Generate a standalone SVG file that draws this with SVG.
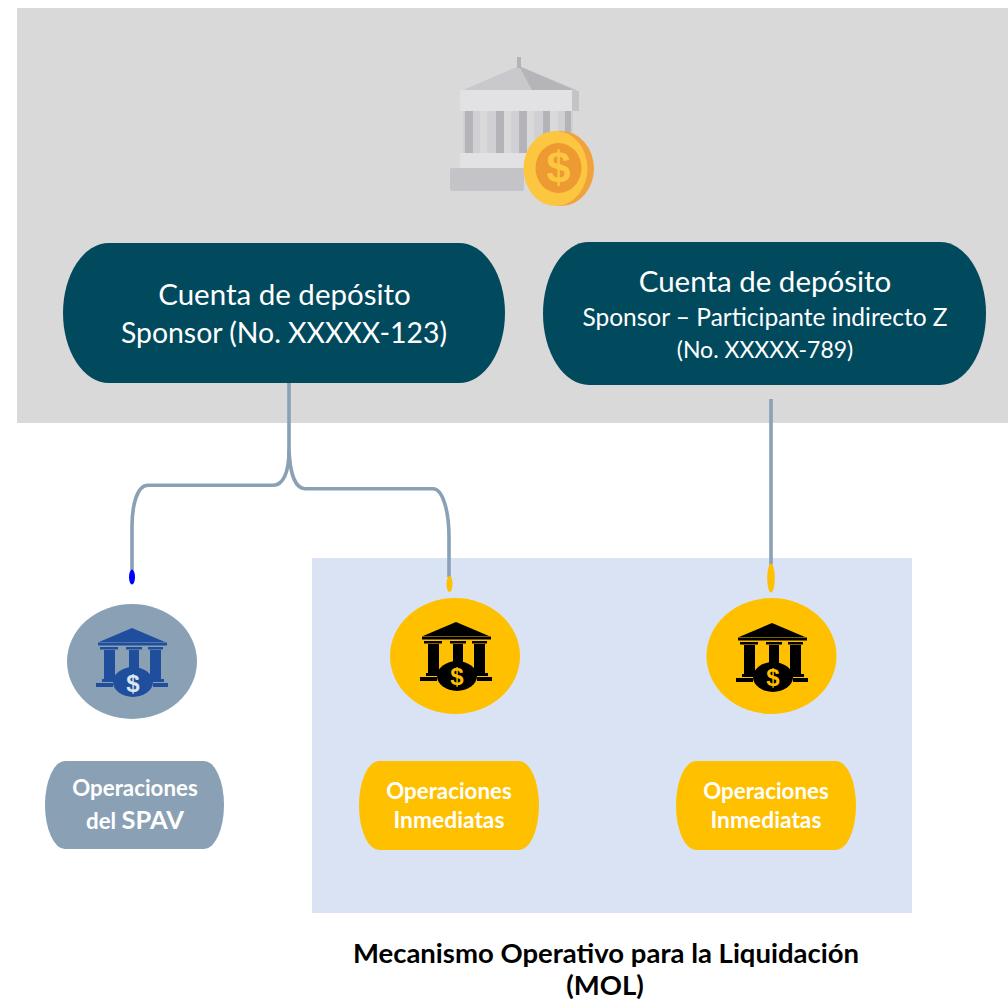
<svg xmlns="http://www.w3.org/2000/svg" width="1008" height="1001" viewBox="0 0 1008 1001">
<style>
text{font-family:"Lato","Carlito","Open Sans",sans-serif;text-anchor:middle}
.dk{fill:#014a5d}
.t{fill:#fff}
.b{font-weight:700;fill:#fff}
.ln{fill:none;stroke:#8aa1b5;stroke-width:3.6}
.gold{fill:#ffc000}
.d{font-family:"Liberation Sans",sans-serif;font-weight:700}
</style>
<defs>
<filter id="soft" x="-5%" y="-5%" width="110%" height="110%"><feGaussianBlur stdDeviation="0.6"/></filter>
<g id="bank">
<path d="M0 0L33 14H-33Z"/>
<rect x="-34" y="14.500" width="69" height="3"/>
<rect x="-32" y="19" width="18" height="2.500"/><rect x="-6" y="19" width="16" height="2.500"/><rect x="16" y="19" width="15" height="2.500"/>
<rect x="-28" y="22" width="11" height="30"/><rect x="-3" y="22" width="10" height="24"/><rect x="18" y="22" width="11" height="30"/>
<rect x="-30" y="51" width="15" height="3"/><rect x="17" y="51" width="15" height="3"/>
<rect x="-36" y="55" width="17" height="4"/><rect x="21" y="55" width="15" height="4"/>
<ellipse cx="1" cy="54" rx="20" ry="15"/>
</g>
</defs>
<rect id="fondo" x="17" y="8" width="991" height="415" fill="#d9d9d9"/>
<rect id="mol" x="312" y="558" width="600" height="355" fill="#dae3f3"/>
<g id="icono-banco" filter="url(#soft)">
<rect x="450" y="168" width="74" height="23" rx="2" fill="#c4c4c8"/>
<path d="M463 90L519 66L577 90Z" fill="#c9c9cd"/>
<path d="M519 66L579 92L572 90H532Z" fill="#b5b5b9"/>
<rect x="517" y="57" width="4" height="11" fill="#b4b4b8"/>
<rect x="460" y="90" width="112" height="21" fill="#e2e2e5"/>
<rect x="572" y="91" width="7" height="20" fill="#c4c4c8"/>
<rect x="460" y="153" width="72" height="15" fill="#e2e2e5"/>
<g fill="#d0d0d4"><rect x="463" y="111" width="17" height="42"/><rect x="487" y="111" width="17" height="42"/><rect x="511" y="111" width="16" height="42"/><rect x="534" y="111" width="16" height="28"/><rect x="558" y="111" width="15" height="24"/></g>
<g fill="#b4b4b8"><rect x="465" y="111" width="8" height="42"/><rect x="496" y="111" width="8" height="42"/><rect x="519" y="111" width="8" height="42"/><rect x="543" y="111" width="7" height="28"/><rect x="565" y="111" width="6" height="24"/></g>
<ellipse cx="561" cy="168.500" rx="33" ry="37.500" fill="#f0a23c"/>
<ellipse cx="555.500" cy="168.500" rx="32" ry="37.500" fill="#fcc63f"/>
<ellipse cx="558.500" cy="168" rx="23" ry="25" fill="#ee9a33"/>
<text class="d" x="558.500" y="183" font-size="44" fill="#fcc63f">$</text>
</g>
<g id="cuenta-sponsor">
<rect class="dk" x="63" y="243" width="442" height="140" rx="46" ry="70"/>
<text class="t" x="284.500" y="304.500" font-size="29.500">Cuenta de depósito</text>
<text class="t" x="284" y="342.500" font-size="28.400">Sponsor (No. XXXXX-123)</text>
</g>
<g id="cuenta-z">
<rect class="dk" x="543" y="242" width="443" height="143" rx="46" ry="71.500"/>
<text class="t" x="765" y="292" font-size="29.500">Cuenta de depósito</text>
<text class="t" x="765" y="326" font-size="24.500">Sponsor – Participante indirecto Z</text>
<text class="t" x="765" y="358" font-size="23">(No. XXXXX-789)</text>
</g>
<g id="conectores">
<path class="ln" d="M289 383V450C289 473 283 485 273 485.300H148C137 485.300 132 505 132 527V570"/>
<path class="ln" d="M289 450C290 473 295 488.700 305 488.700H433C443 488.700 449 512 449 537V577"/>
<path class="ln" d="M771 399V565"/>
<ellipse cx="132" cy="577" rx="3" ry="7.500" fill="#0000ff"/>
<ellipse cx="449.500" cy="584" rx="3" ry="8" fill="#ffc000"/>
<ellipse cx="771" cy="578" rx="3.800" ry="14.500" fill="#ffc000"/>
</g>
<g id="spav-icono">
<ellipse cx="132" cy="661.500" rx="65" ry="57.500" fill="#8aa1b5"/>
<use href="#bank" x="132" y="628" fill="#1f4e9c"/>
<text class="d" x="133" y="692" font-size="24" fill="#dce6f2">$</text>
</g>
<g id="mol-icono-1">
<ellipse class="gold" cx="455" cy="656" rx="65" ry="58"/>
<use href="#bank" x="456" y="622" fill="#000"/>
<text class="d" x="457" y="685" font-size="24" fill="#ffc000">$</text>
</g>
<g id="mol-icono-2">
<ellipse class="gold" cx="771.500" cy="656" rx="65" ry="58"/>
<use href="#bank" x="772" y="623" fill="#000"/>
<text class="d" x="773" y="686" font-size="24" fill="#ffc000">$</text>
</g>
<g id="spav">
<rect x="45" y="761" width="179" height="88" rx="20" ry="44" fill="#8aa1b5"/>
<text class="b" x="135" y="796" font-size="22.300">Operaciones</text>
<text class="b" x="135" y="829" font-size="22.300">del <tspan font-size="25.500">SPAV</tspan></text>
</g>
<g id="inmediatas-1">
<rect class="gold" x="359" y="761" width="180" height="89" rx="20" ry="44.500"/>
<text class="b" x="449" y="799" font-size="22.300">Operaciones</text>
<text class="b" x="449" y="828" font-size="22.800">Inmediatas</text>
</g>
<g id="inmediatas-2">
<rect class="gold" x="676" y="761" width="180" height="89" rx="20" ry="44.500"/>
<text class="b" x="766" y="799" font-size="22.300">Operaciones</text>
<text class="b" x="766" y="828" font-size="22.800">Inmediatas</text>
</g>
<g id="titulo-mol">
<text x="606" y="963" font-size="27.500" font-weight="700" fill="#000">Mecanismo Operativo para la Liquidación</text>
<text x="605" y="995" font-size="27.500" font-weight="700" fill="#000">(MOL)</text>
</g>
</svg>
